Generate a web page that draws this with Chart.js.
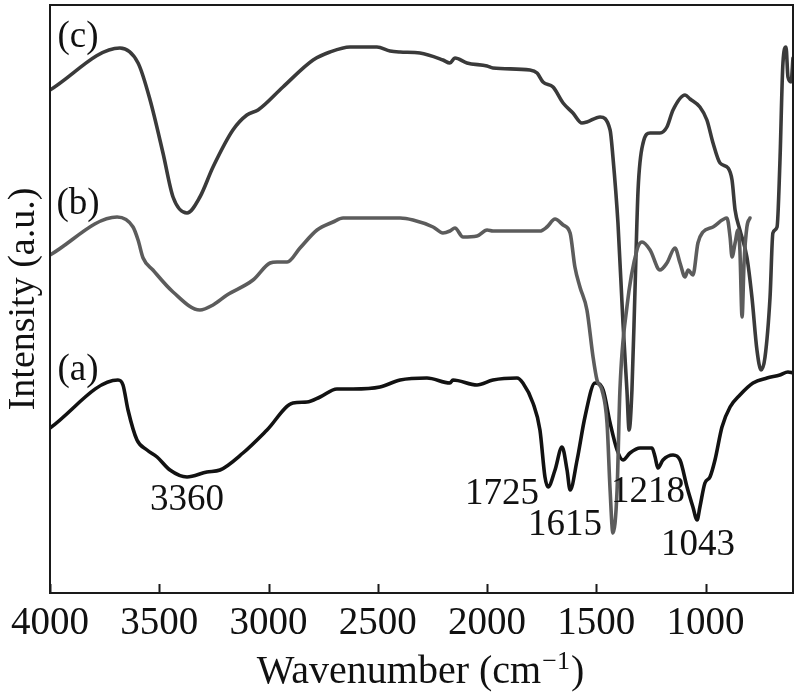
<!DOCTYPE html>
<html lang="en">
<head>
    <meta charset="UTF-8">
    <title>FTIR spectra</title>
    <style>
        html, body { margin: 0; padding: 0; background: #fff; }
        #wrap { width: 796px; height: 696px; }
    </style>
</head>
<body>
    <div id="wrap"><canvas id="ftir" width="796" height="696"></canvas></div>

    <script src="https://cdn.jsdelivr.net/npm/chart.js@4/dist/chart.umd.min.js"></script>
    <script>

    // wavenumber (cm-1) / intensity (a.u.)
    const waveC = [4000, 3680, 3597, 3542, 3483, 3437, 3373, 3314, 3254, 3163, 3099, 3048, 2934, 2796, 2719, 2627, 2504, 2444, 2398, 2307, 2202, 2170, 2147, 2092, 2000, 1973, 1804, 1771, 1744, 1698, 1652, 1607, 1566, 1543, 1483, 1437, 1424, 1401, 1378, 1360, 1350, 1337, 1323, 1309, 1286, 1254, 1209, 1177, 1149, 1094, 1071, 1026, 994, 966, 934, 897, 879, 865, 843, 811, 788, 765, 746, 728, 705, 692, 673, 660, 646, 632, 623, 609, 600];
    const intC  = [503, 545, 530, 493, 440, 396, 380, 396, 426, 463, 478, 483, 506, 533, 541, 546, 546, 542, 541, 540, 533, 530, 535, 530, 527, 525, 523, 520, 511, 506, 490, 480, 470, 471, 476, 463, 436, 370, 270, 203, 163, 203, 303, 403, 450, 460, 460, 466, 483, 498, 494, 486, 473, 450, 430, 425, 413, 383, 363, 336, 296, 243, 223, 236, 296, 360, 366, 430, 530, 546, 516, 511, 535];

    const waveB = [4000, 3693, 3620, 3597, 3574, 3529, 3437, 3314, 3254, 3190, 3071, 2993, 2961, 2915, 2856, 2778, 2705, 2659, 2398, 2339, 2247, 2202, 2170, 2147, 2110, 2046, 2000, 1973, 1758, 1726, 1689, 1652, 1620, 1598, 1575, 1543, 1515, 1497, 1474, 1451, 1437, 1424, 1405, 1392, 1360, 1314, 1291, 1254, 1209, 1177, 1140, 1117, 1094, 1080, 1058, 1035, 1012, 966, 902, 888, 879, 865, 852, 843, 833, 824, 811, 797];
    const intB  = [338, 376, 366, 353, 335, 323, 301, 283, 288, 298, 313, 330, 331, 331, 345, 363, 371, 375, 375, 373, 366, 360, 362, 365, 356, 357, 363, 362, 362, 366, 374, 368, 360, 326, 306, 283, 236, 213, 203, 170, 103, 60, 103, 203, 286, 343, 351, 343, 323, 330, 345, 330, 316, 323, 318, 350, 361, 366, 375, 356, 336, 350, 363, 343, 276, 330, 366, 375];

    const waveA = [4000, 3689, 3666, 3643, 3602, 3556, 3510, 3451, 3373, 3282, 3222, 3117, 3007, 2888, 2824, 2764, 2687, 2613, 2490, 2398, 2275, 2170, 2156, 2046, 1973, 1863, 1836, 1790, 1758, 1735, 1721, 1689, 1657, 1634, 1620, 1588, 1552, 1506, 1469, 1437, 1405, 1378, 1346, 1300, 1245, 1231, 1218, 1195, 1149, 1117, 1085, 1058, 1039, 1026, 1003, 980, 957, 925, 888, 843, 783, 719, 660, 623, 600];
    const intA  = [165, 213, 208, 183, 153, 143, 136, 123, 116, 121, 123, 140, 163, 190, 191, 196, 204, 204, 206, 213, 215, 210, 213, 208, 213, 215, 210, 190, 163, 116, 106, 123, 146, 123, 103, 133, 176, 210, 203, 170, 143, 133, 140, 145, 145, 136, 125, 133, 138, 133, 106, 86, 73, 86, 110, 116, 133, 166, 186, 198, 210, 215, 218, 221, 220];

    const xTicks = [4000, 3500, 3000, 2500, 2000, 1500, 1000];

    // text written inside the frame: [text, wavenumber, intensity]
    const labels = [
        ["(c)", 3872, 556],
        ["(b)", 3872, 389],
        ["(a)", 3872, 223],
        ["3360", 3373, 93],
        ["1725", 1932, 99],
        ["1615", 1643, 68],
        ["1218", 1264, 101],
        ["1043", 1035, 48]
    ];

    const serif = '"Liberation Serif", "Times New Roman", serif';

    function pairs(xs, ys) {
        return xs.map((x, i) => ({x: x, y: ys[i]}));
    }

    function line(data, color) {
        return {
            data: data,
            borderColor: color,
            borderWidth: 3.6,
            pointRadius: 0,
            cubicInterpolationMode: "monotone",
            borderJoinStyle: "round",
            borderCapStyle: "round",
            fill: false
        };
    }

    // frame, inward ticks, annotations and the x title
    const decor = {
        id: "decor",
        afterDraw(chart) {
            const ctx = chart.ctx;
            const area = chart.chartArea;
            const xs = chart.scales.x;
            const ys = chart.scales.y;
            ctx.save();
            ctx.strokeStyle = "#1a1a1a";
            ctx.lineWidth = 2;
            ctx.strokeRect(area.left, area.top, area.right - area.left, area.bottom - area.top);
            ctx.beginPath();
            xTicks.forEach(v => {
                const px = Math.round(xs.getPixelForValue(v)) + 0.5;
                ctx.moveTo(px, area.bottom);
                ctx.lineTo(px, area.bottom - 9);
            });
            ctx.stroke();

            ctx.fillStyle = "#111";
            ctx.textAlign = "center";
            ctx.textBaseline = "middle";
            ctx.font = "37px " + serif;
            labels.forEach(l => {
                ctx.fillText(l[0], xs.getPixelForValue(l[1]), ys.getPixelForValue(l[2]));
            });

            // Wavenumber (cm^-1)
            const main = "Wavenumber (cm";
            const sup = "\u22121";
            ctx.textAlign = "left";
            ctx.textBaseline = "alphabetic";
            ctx.font = "40px " + serif;
            const w1 = ctx.measureText(main).width;
            const w3 = ctx.measureText(")").width;
            ctx.font = "26px " + serif;
            const w2 = ctx.measureText(sup).width;
            let x0 = (area.left + area.right) / 2 - (w1 + w2 + w3) / 2 - 2;
            const base = 683;
            ctx.font = "40px " + serif;
            ctx.fillText(main, x0, base);
            ctx.font = "26px " + serif;
            ctx.fillText(sup, x0 + w1 + 1, base - 14);
            ctx.font = "40px " + serif;
            ctx.fillText(")", x0 + w1 + w2 + 2, base);
            ctx.restore();
        }
    };

    new Chart(document.getElementById("ftir"), {
        type: "line",
        data: {
            datasets: [
                line(pairs(waveB, intB), "#5c5c5c"),
                line(pairs(waveC, intC), "#3a3a3a"),
                line(pairs(waveA, intA), "#121212")
            ]
        },
        options: {
            responsive: false,
            animation: false,
            layout: {padding: {top: 5, right: 3, left: 0, bottom: 0}},
            scales: {
                x: {
                    type: "linear",
                    reverse: true,
                    min: 600,
                    max: 4000,
                    afterBuildTicks: scale => { scale.ticks = xTicks.map(v => ({value: v})); },
                    afterFit: scale => { scale.height = 103; },
                    grid: {display: false, drawTicks: false},
                    border: {display: false},
                    ticks: {
                        color: "#111",
                        padding: 7,
                        maxRotation: 0,
                        autoSkip: false,
                        callback: v => String(v),
                        font: {family: serif, size: 39}
                    }
                },
                y: {
                    min: 0,
                    max: 588,
                    afterFit: scale => { scale.width = 50; },
                    grid: {display: false, drawTicks: false},
                    border: {display: false},
                    ticks: {display: false},
                    title: {
                        display: true,
                        text: "Intensity (a.u.)",
                        color: "#111",
                        padding: {top: 1, bottom: 0},
                        font: {family: serif, size: 38}
                    }
                }
            },
            plugins: {
                legend: {display: false},
                tooltip: {enabled: false}
            }
        },
        plugins: [decor]
    });

    </script>
</body>
</html>
